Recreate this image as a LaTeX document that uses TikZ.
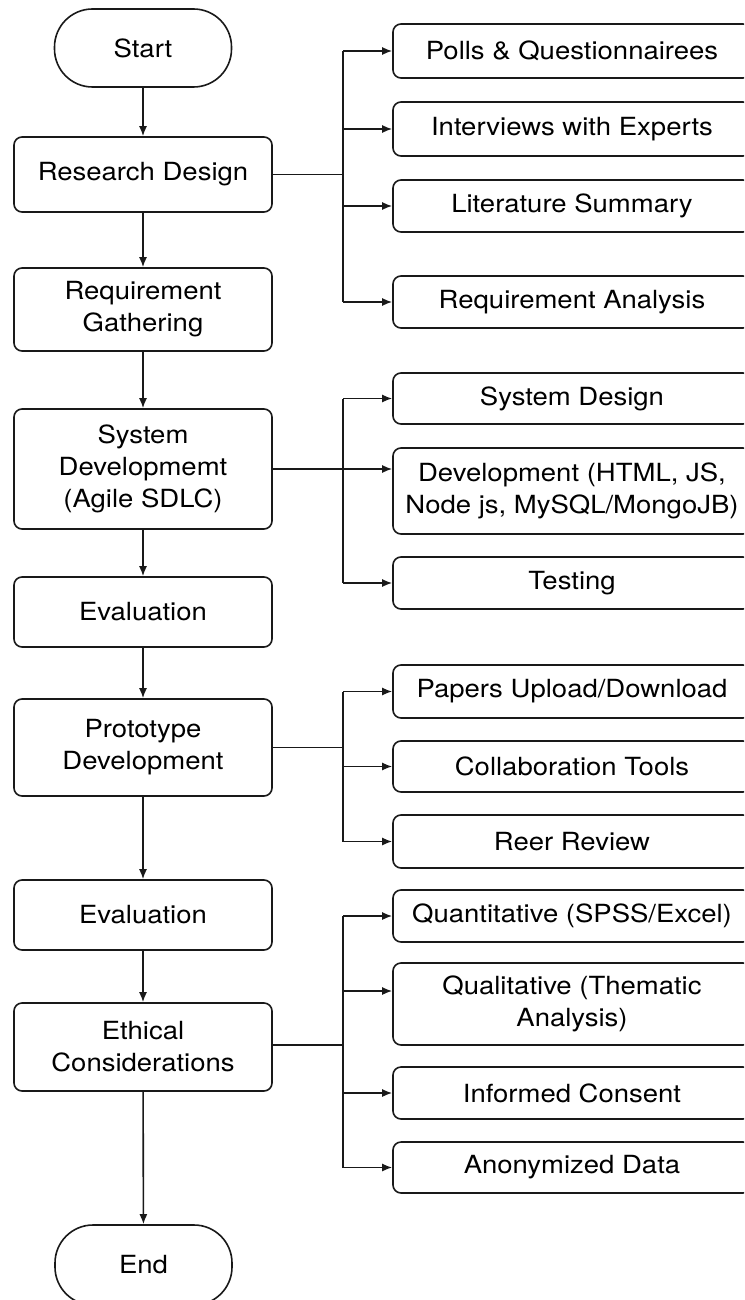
\documentclass[tikz,border=0pt]{standalone}
\usepackage{fontspec}
\setmainfont[FakeStretch=1.1]{TeX Gyre Heros}
\usetikzlibrary{arrows.meta}

\begin{document}
\begin{tikzpicture}[x=1pt,y=-1pt,
    >={Latex[length=10pt,width=8pt]},
    line width=1.6pt, color=black!90,
    boxfont/.style={font=\fontsize{25}{32}\selectfont, text=black},
    mainbox/.style={draw, boxfont, rounded corners=8pt, minimum width=258pt,
      align=center, inner sep=2pt},
    subbox/.style={draw, boxfont, rounded corners=8pt, minimum width=358pt,
      align=center, inner sep=2pt},
    termbox/.style={draw, boxfont, rounded corners=38pt, minimum width=177pt,
      minimum height=78pt}]
  \useasboundingbox (0,0) rectangle (744,1300);
  \clip (0,0) rectangle (744,1300);
  \fill[white] (0,0) rectangle (744,1300);

  % main column
  \node[termbox] (start) at (143,48) {Start};
  \node[mainbox, minimum height=75pt] (rd) at (143,174.5) {Research Design};
  \node[mainbox, minimum height=83pt] (rg) at (143,309.5) {Requirement\\Gathering};
  \node[mainbox, minimum height=120pt] (sd) at (143,469) {System\\Developmemt\\(Agile SDLC)};
  \node[mainbox, minimum height=70pt] (ev1) at (143,612) {Evaluation};
  \node[mainbox, minimum height=97pt] (pd) at (143,747.5) {Prototype\\Development};
  \node[mainbox, minimum height=70pt] (ev2) at (143,915) {Evaluation};
  \node[mainbox, minimum height=88pt] (ec) at (143,1047) {Ethical\\Considerations};
  \node[termbox, minimum height=80pt] (end) at (143.5,1265) {End};

  \foreach \a/\b in {start/rd,rd/rg,rg/sd,sd/ev1,ev1/pd,pd/ev2,ev2/ec,ec/end}
    \draw[->] (\a) -- (\b);

  % research design branch
  \node[subbox, minimum height=54pt] (p1) at (572,51) {Polls \& Questionnairees};
  \node[subbox, minimum height=54pt] (p2) at (572,129) {Interviews with Experts};
  \node[subbox, minimum height=52pt] (p3) at (572,206) {Literature Summary};
  \node[subbox, minimum height=52pt] (p4) at (572,302) {Requirement Analysis};
  \coordinate (b1) at (343,174.5);
  \draw (rd) -- (b1);
  \draw (b1 |- p1) -- (b1 |- p4);
  \foreach \t in {p1,p2,p3,p4}
    \draw[->] (b1 |- \t) -- (\t);

  % system development branch
  \node[subbox, minimum height=51pt] (s1) at (572,398.5) {System Design};
  \node[subbox, minimum height=86pt] (s2) at (572,491) {Development (HTML, JS,\\Node js, MySQL/MongoJB)};
  \node[subbox, minimum height=52pt] (s3) at (572,583) {Testing};
  \coordinate (b2) at (343,469);
  \draw (b2 |- s1) -- (b2 |- s3);
  \draw[->] (sd) -- (sd -| s2.west);
  \foreach \t in {s1,s3}
    \draw[->] (b2 |- \t) -- (\t);

  % prototype branch
  \node[subbox, minimum height=53pt] (t1) at (572,691.5) {Papers Upload/Download};
  \node[subbox, minimum height=51pt] (t2) at (572,766.5) {Collaboration Tools};
  \node[subbox, minimum height=53pt] (t3) at (572,841.5) {Reer Review};
  \coordinate (b3) at (343,747.5);
  \draw (pd) -- (b3);
  \draw (b3 |- t1) -- (b3 |- t3);
  \foreach \t in {t1,t2,t3}
    \draw[->] (b3 |- \t) -- (\t);

  % ethics branch
  \node[subbox, minimum height=52pt] (q1) at (572,916) {Quantitative (SPSS/Excel)};
  \node[subbox, minimum height=82pt] (q2) at (572,1004) {Qualitative (Thematic\\Analysis)};
  \node[subbox, minimum height=52pt] (q3) at (572,1093) {Informed Consent};
  \node[subbox, minimum height=51pt] (q4) at (572,1167.5) {Anonymized Data};
  \coordinate (b4) at (343,1045);
  \coordinate (q2in) at ([yshift=13pt]q2.west);
  \draw (ec.east |- b4) -- (b4);
  \draw (b4 |- q1) -- (b4 |- q4);
  \draw[->] (b4 |- q2in) -- (q2in);
  \foreach \t in {q1,q3,q4}
    \draw[->] (b4 |- \t) -- (\t);
\end{tikzpicture}
\end{document}
